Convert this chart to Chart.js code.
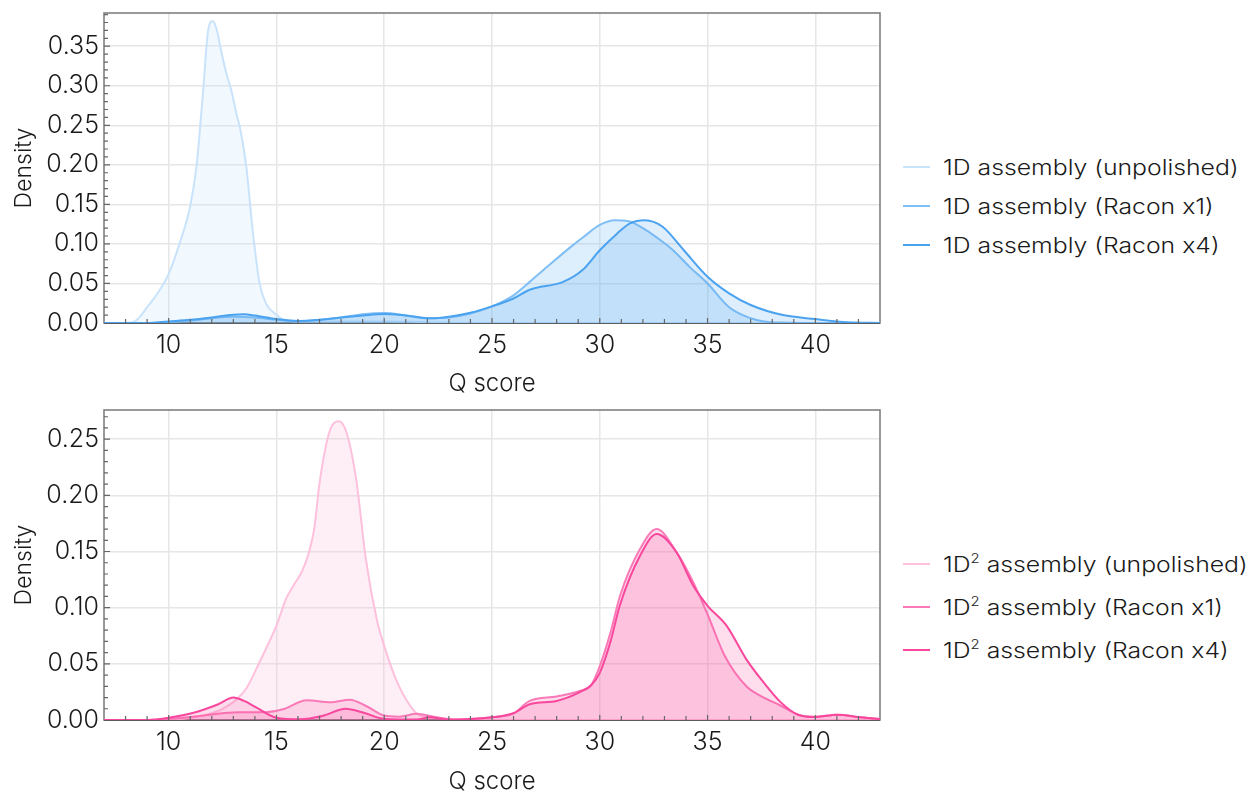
<!DOCTYPE html>
<html>
<head>
<meta charset="utf-8">
<script src="https://cdn.jsdelivr.net/npm/chart.js@4.4.0/dist/chart.umd.min.js"></script>
<style>
  body { margin: 0; background: #fff; width: 1250px; height: 794px; overflow: hidden; position: relative;
         font-family: Inter, "Liberation Sans", sans-serif; font-weight: 300; color: #1a1a1a; }
  .wrap { position: absolute; left: 0; }
  .legend { position: absolute; left: 903px; top: 0; font-size: 21px; }
  .row { position: absolute; left: 0; display: flex; align-items: center; white-space: nowrap; height: 30px; }
  .swatch { width: 27px; height: 2px; margin-right: 13px; }
  .txt { display: inline-block; transform: scaleX(1.18); transform-origin: left center; }
  sup { font-size: 0.6em; vertical-align: 0.7em; line-height: 0; }
</style>
</head>
<body>
<div class="wrap" style="top:0"><canvas id="topChart" width="890" height="400"></canvas></div>
<div class="wrap" style="top:397px"><canvas id="bottomChart" width="890" height="397"></canvas></div>
<div class="legend" id="legendTop"></div>
<div class="legend" id="legendBottom"></div>
<script>
// x ticks shared by both panels
var xTicks = [10, 15, 20, 25, 30, 35, 40];
var yTicksTop = [0, 0.05, 0.10, 0.15, 0.20, 0.25, 0.30, 0.35];
var yTicksBottom = [0, 0.05, 0.10, 0.15, 0.20, 0.25];

var topLabels = ['1D assembly (unpolished)', '1D assembly (Racon x1)', '1D assembly (Racon x4)'];
var bottomLabels = ['1D<sup>2</sup> assembly (unpolished)', '1D<sup>2</sup> assembly (Racon x1)', '1D<sup>2</sup> assembly (Racon x4)'];

// ---- top panel: 1D assembly ----
var top0X = [7, 8, 8.35, 8.7, 9.0, 9.5, 10, 10.5, 11, 11.3, 11.45, 11.62, 11.82, 12.05, 12.24, 12.36, 12.67, 12.9, 13.14, 13.33, 13.6, 13.91, 14.22, 14.53, 15, 15.35, 16, 18, 20, 22, 25, 43];
var top0Y = [0, 0, 0.001, 0.009, 0.02, 0.038, 0.062, 0.1, 0.148, 0.2, 0.245, 0.3, 0.368, 0.382, 0.37, 0.354, 0.316, 0.295, 0.265, 0.244, 0.198, 0.114, 0.05, 0.024, 0.0105, 0.004, 0.002, 0.002, 0.002, 0.001, 0, 0];

var top1X = [7, 9, 10, 11, 12, 13, 14, 15, 16, 17, 18, 19, 20, 21, 22, 23, 24, 25, 26, 26.75, 27.6, 28.6, 29.3, 30, 30.7, 31.3, 32, 32.7, 33.4, 34.2, 35, 36, 37, 37.6, 38.5, 40, 43];
var top1Y = [0, 0, 0.001, 0.003, 0.006, 0.008, 0.007, 0.004, 0.002, 0.004, 0.007, 0.011, 0.0125, 0.0095, 0.006, 0.007, 0.012, 0.021, 0.035, 0.052, 0.072, 0.095, 0.11, 0.124, 0.13, 0.129, 0.12, 0.107, 0.092, 0.07, 0.05, 0.02, 0.006, 0.002, 0.0005, 0, 0];

var top2X = [7, 9, 10, 11, 12, 13, 13.5, 14, 15, 16, 17, 18, 19, 20, 21, 22.2, 23, 24, 25, 26, 26.75, 28.3, 29.2, 30, 30.8, 31.4, 32.1, 32.9, 33.9, 35, 36, 37, 38.5, 40, 41.5, 43];
var top2Y = [0, 0, 0.002, 0.004, 0.007, 0.0105, 0.011, 0.0095, 0.005, 0.0025, 0.004, 0.007, 0.0095, 0.0114, 0.0095, 0.006, 0.008, 0.013, 0.021, 0.031, 0.042, 0.052, 0.067, 0.092, 0.113, 0.126, 0.130, 0.122, 0.092, 0.0585, 0.0375, 0.0228, 0.010, 0.005, 0.001, 0];

// ---- bottom panel: 1D² assembly ----
var bot0X = [7, 10, 11, 12, 12.5, 13, 13.6, 14.2, 15, 15.45, 15.8, 16.2, 16.5, 16.75, 17.0, 17.45, 17.9, 18.25, 18.7, 19.15, 19.65, 20, 20.55, 21.2, 21.65, 22.5, 23.5, 43];
var bot0Y = [0, 0, 0.002, 0.006, 0.01, 0.016, 0.028, 0.051, 0.084, 0.108, 0.12, 0.133, 0.149, 0.17, 0.211, 0.256, 0.266, 0.256, 0.214, 0.143, 0.09, 0.066, 0.036, 0.0128, 0.004, 0.002, 0, 0];

var bot1X = [7, 9, 10, 11.44, 12.5, 13.3, 14.5, 15.3, 16.4, 17.5, 18.4, 19.2, 20, 20.7, 21.5, 22.3, 23.2, 25, 26, 26.75, 28, 29.1, 29.6, 30, 30.5, 30.93, 31.86, 32.64, 33.57, 34.34, 35, 35.8, 36.8, 37.5, 38.4, 39.2, 40, 41, 42.1, 43];
var bot1Y = [0, 0, 0.001, 0.0036, 0.006, 0.007, 0.007, 0.0095, 0.0175, 0.0157, 0.018, 0.012, 0.004, 0.003, 0.0056, 0.003, 0.0005, 0.0024, 0.006, 0.017, 0.021, 0.026, 0.031, 0.048, 0.078, 0.11, 0.152, 0.170, 0.149, 0.1225, 0.094, 0.057, 0.03, 0.021, 0.0127, 0.0047, 0.0027, 0.0047, 0.0024, 0.0008];

var bot2X = [7, 9, 10, 11.44, 12.3, 13, 13.5, 14.08, 15, 16.1, 17.2, 18.2, 19.05, 20, 21.5, 22.1, 23, 25, 26, 26.75, 28, 29.1, 29.6, 30, 30.5, 30.93, 31.86, 32.64, 33.57, 34.34, 35, 35.88, 36.8, 37.6, 38.4, 39.2, 40, 41, 42.1, 43];
var bot2Y = [0, 0, 0.002, 0.008, 0.014, 0.02, 0.017, 0.011, 0.002, 0.0006, 0.004, 0.01, 0.0065, 0.001, 0.0005, 0.0024, 0.0003, 0.0024, 0.006, 0.014, 0.017, 0.025, 0.031, 0.042, 0.07, 0.102, 0.146, 0.1655, 0.149, 0.1195, 0.1017, 0.084, 0.054, 0.0335, 0.0157, 0.0047, 0.0027, 0.0047, 0.0024, 0.0008];

var blueLines = ['#c9e3fb', '#80bff5', '#4ba3f0'];
var blueFills = ['rgba(201,227,251,0.25)', 'rgba(128,191,245,0.27)', 'rgba(75,163,240,0.18)'];
var pinkLines = ['#fdc0dd', '#fa7ab8', '#f8479c'];
var pinkFills = ['rgba(253,192,221,0.25)', 'rgba(250,122,184,0.25)', 'rgba(248,71,156,0.18)'];

var fontFamily = 'Inter, "Liberation Sans", sans-serif';

function pts(xs, ys) {
    return xs.map(function(x, i) { return {x: x, y: ys[i]}; });
}

// frame around the plot and inward tick marks
var frameTicks = {
    id: 'frameTicks',
    beforeDatasetsDraw(chart) {
        var a = chart.chartArea, ctx = chart.ctx;
        ctx.save();
        ctx.strokeStyle = '#808080';
        ctx.lineWidth = 1.6;
        ctx.strokeRect(a.left, a.top, a.right - a.left, a.bottom - a.top);
        ctx.strokeStyle = '#5c5c5c';
        ctx.lineWidth = 2;
        ctx.beginPath();
        ctx.moveTo(a.left, a.bottom);
        ctx.lineTo(a.right, a.bottom);
        ctx.stroke();
        ctx.restore();
    },
    afterDatasetsDraw(chart) {
        var a = chart.chartArea, ctx = chart.ctx;
        var xs = chart.scales.x, ys = chart.scales.y;
        ctx.save();
        ctx.strokeStyle = '#666';
        ctx.lineWidth = 1.2;
        ctx.beginPath();
        for (var v = 8; v <= 42; v++) {
            var px = xs.getPixelForValue(v);
            ctx.moveTo(px, a.bottom);
            ctx.lineTo(px, a.bottom - (v % 5 === 0 ? 5 : 4));
        }
        for (var k = 1; k < 100; k++) {
            var val = k / 100;
            if (val > ys.max) break;
            var py = ys.getPixelForValue(val);
            ctx.moveTo(a.left, py);
            ctx.lineTo(a.left + (k % 5 === 0 ? 6 : 4), py);
        }
        ctx.stroke();
        ctx.restore();
    }
};

function makeChart(id, series, lines, fills, yMax, yTicks, xTitlePad) {
    var datasets = series.map(function(s, i) {
        return {
            data: s,
            borderColor: lines[i],
            backgroundColor: fills[i],
            borderWidth: 2,
            fill: 'origin',
            pointRadius: 0,
            cubicInterpolationMode: 'monotone',
            order: 3 - i
        };
    });
    return new Chart(document.getElementById(id), {
        type: 'line',
        data: { datasets: datasets },
        options: {
            responsive: false,
            animation: false,
            events: [],
            layout: { padding: { top: 13, right: 10, left: 0, bottom: 0 } },
            plugins: { legend: { display: false }, tooltip: { enabled: false } },
            scales: {
                x: {
                    type: 'linear', min: 7, max: 43,
                    afterBuildTicks: function(scale) { scale.ticks = xTicks.map(function(v) { return {value: v}; }); },
                    afterFit: function(scale) {
                        scale.height = scale.chart.height - 13 - 310;
                        scale.paddingLeft = 0; scale.paddingRight = 0;
                    },
                    grid: { color: '#e6e6e6', lineWidth: 1.5, drawTicks: false },
                    border: { display: false },
                    ticks: { padding: 7, color: '#1a1a1a', font: { family: fontFamily, size: 25, weight: 300 } },
                    title: { display: true, text: 'Q score', color: '#1a1a1a', padding: { top: 0, bottom: xTitlePad },
                             font: { family: fontFamily, size: 24, weight: 300 } }
                },
                y: {
                    type: 'linear', min: 0, max: yMax,
                    afterBuildTicks: function(scale) { scale.ticks = yTicks.map(function(v) { return {value: v}; }); },
                    afterFit: function(scale) {
                        scale.width = 104;
                        scale.paddingTop = 0; scale.paddingBottom = 0;
                    },
                    grid: { color: '#e6e6e6', lineWidth: 1.5, drawTicks: false },
                    border: { display: false },
                    ticks: { padding: 5, color: '#1a1a1a', font: { family: fontFamily, size: 25, weight: 300 },
                             callback: function(v) { return v.toFixed(2); } },
                    title: { display: true, text: 'Density', color: '#1a1a1a', padding: { top: 10, bottom: 0 },
                             font: { family: fontFamily, size: 23, weight: 300 } }
                }
            }
        },
        plugins: [frameTicks]
    });
}

makeChart('topChart', [pts(top0X, top0Y), pts(top1X, top1Y), pts(top2X, top2Y)], blueLines, blueFills, 0.392, yTicksTop, 2);
makeChart('bottomChart', [pts(bot0X, bot0Y), pts(bot1X, bot1Y), pts(bot2X, bot2Y)], pinkLines, pinkFills, 0.276, yTicksBottom, -2);

function buildLegend(elId, labels, colors, centers) {
    var el = document.getElementById(elId);
    labels.forEach(function(lab, i) {
        var row = document.createElement('div');
        row.className = 'row';
        row.style.top = (centers[i] - 15) + 'px';
        row.innerHTML = '<span class="swatch" style="background:' + colors[i] + '"></span><span class="txt">' + lab + '</span>';
        el.appendChild(row);
    });
}
buildLegend('legendTop', topLabels, blueLines, [167, 206, 245]);
buildLegend('legendBottom', bottomLabels, pinkLines, [564, 607, 650]);
</script>
</body>
</html>
